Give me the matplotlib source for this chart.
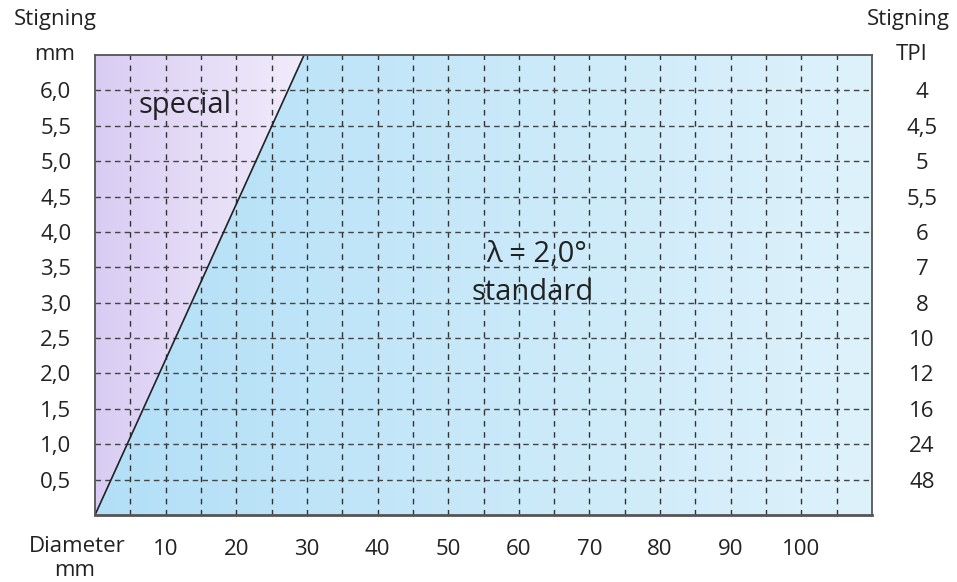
import numpy as np
import matplotlib
matplotlib.use("Agg")
from matplotlib import pyplot as plt
from matplotlib.colors import LinearSegmentedColormap
from matplotlib.patches import Polygon

# data
diameter_ticks = [10, 20, 30, 40, 50, 60, 70, 80, 90, 100]
pitch_mm = [0.5, 1.0, 1.5, 2.0, 2.5, 3.0, 3.5, 4.0, 4.5, 5.0, 5.5, 6.0]
pitch_mm_labels = ["0,5", "1,0", "1,5", "2,0", "2,5", "3,0", "3,5", "4,0", "4,5", "5,0", "5,5", "6,0"]
pitch_tpi_labels = ["48", "24", "16", "12", "10", "8", "7", "6", "5,5", "5", "4,5", "4"]
grens_x = [0, 29.6]   # lambda = 2,0 grenslijn
grens_y = [0, 6.5]

xmax = 110
ymax = 6.5

plt.rcParams['font.family'] = ['Open Sans', 'DejaVu Sans']
fs = 16
tc = "#222222"

fig = plt.figure(figsize=(9.57, 5.82), dpi=100)
ax = fig.add_axes([95/957, 1 - 515/582, (872-95)/957, (515-55)/582])

# gradient achtergrond
grad = np.linspace(0, 1, 256).reshape(1, -1)
cm_paars = LinearSegmentedColormap.from_list("paars", ["#d9ccf3", "#f1ecfb"])
cm_blauw = LinearSegmentedColormap.from_list("blauw", ["#b2dff7", "#def2fb"])

poly_paars = Polygon([(grens_x[0], grens_y[0]), (grens_x[1], grens_y[1]), (0, ymax)],
                     closed=True, facecolor="none", edgecolor="none")
poly_blauw = Polygon([(grens_x[0], grens_y[0]), (grens_x[1], grens_y[1]), (xmax, ymax), (xmax, 0)],
                     closed=True, facecolor="none", edgecolor="none")
ax.add_patch(poly_paars)
ax.add_patch(poly_blauw)

im1 = ax.imshow(grad, extent=[0, grens_x[1], 0, ymax], cmap=cm_paars, aspect="auto", zorder=0)
im1.set_clip_path(poly_paars)
im2 = ax.imshow(grad, extent=[0, xmax, 0, ymax], cmap=cm_blauw, aspect="auto", zorder=0)
im2.set_clip_path(poly_blauw)
ax.set_xlim(0, xmax)
ax.set_ylim(0, ymax)

# raster
for gx in np.arange(5, xmax, 5):
    ax.axvline(gx, color="#333333", lw=1, ls=(0, (4, 4)), zorder=1)
for gy in pitch_mm:
    ax.axhline(gy, color="#444444", lw=1, ls=(0, (4, 3)), zorder=1)

ax.plot(grens_x, grens_y, color="#222222", lw=1.2, zorder=2)

for s in ax.spines.values():
    s.set_color("#555555")
    s.set_linewidth(1.3)
ax.spines["bottom"].set_linewidth(2)

ax.set_xticks(diameter_ticks)
ax.set_xticklabels([str(v) for v in diameter_ticks])
ax.set_yticks(pitch_mm)
ax.set_yticklabels(pitch_mm_labels)
ax.tick_params(axis="both", length=0, labelsize=fs, colors=tc)
ax.tick_params(axis="x", pad=17)
ax.tick_params(axis="y", pad=17)

ax2 = ax.twinx()
ax2.set_ylim(0, ymax)
ax2.set_yticks(pitch_mm)
ax2.set_yticklabels(pitch_tpi_labels, ha="center")
ax2.tick_params(axis="y", length=0, labelsize=fs, colors=tc, pad=36)
for s in ax2.spines.values():
    s.set_visible(False)

ax.text(12.8, 5.79, "special", fontsize=21, ha="center", va="center", color=tc, zorder=3)
ax.text(62.5, 3.68, "λ = 2,0°", fontsize=21, ha="center", va="center", color=tc, zorder=3)
ax.text(62.0, 3.15, "standard", fontsize=21, ha="center", va="center", color=tc, zorder=3)

fig.text(55/957, 1 - 20/582, "Stigning", fontsize=fs, ha="center", va="center", color=tc)
fig.text(55/957, 1 - 55/582, "mm", fontsize=fs, ha="center", va="center", color=tc)
fig.text(908/957, 1 - 20/582, "Stigning", fontsize=fs, ha="center", va="center", color=tc)
fig.text(912/957, 1 - 55/582, "TPI", fontsize=fs, ha="center", va="center", color=tc)
fig.text(77/957, 1 - 546/582, "Diameter", fontsize=fs, ha="center", va="center", color=tc)
fig.text(75/957, 1 - 571/582, "mm", fontsize=fs, ha="center", va="center", color=tc)

fig.savefig("out.png", dpi=100)
